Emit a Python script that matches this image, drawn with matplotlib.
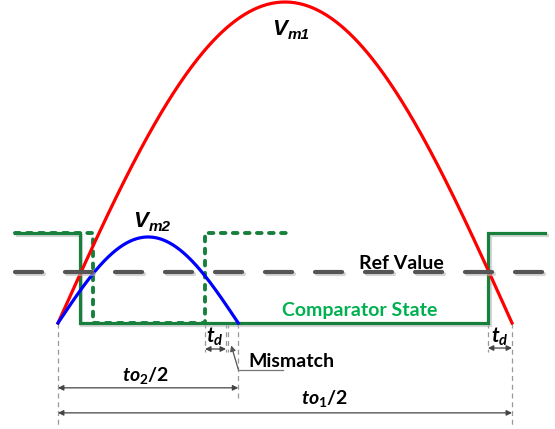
import matplotlib.pyplot as plt
import matplotlib.patheffects as pe
import numpy as np

plt.rcParams['mathtext.fontset'] = 'custom'
plt.rcParams['mathtext.it'] = 'Lato:style=italic:weight=bold'
plt.rcParams['mathtext.rm'] = 'Lato:weight=bold'

# signal parameters (time in units of to1/2, voltage in units of Vm1)
half_period1 = 1.0
amp1 = 1.0
half_period2 = 0.397
amp2 = 0.268
ref_value = 0.159
comp_high = 0.280

# comparator state (solid) and delayed state (dotted)
comp_t = [-0.095, 0.048, 0.048, 0.947, 0.947, 1.073]
comp_v = [comp_high, comp_high, 0, 0, comp_high, comp_high]
late_t = [-0.095, 0.077, 0.077, 0.324, 0.324, 0.504]
late_v = [comp_high, comp_high, 0, 0, comp_high, comp_high]
ref_span = [-0.095, 1.084]

# marker lines below the axis: (time, depth)
guides = [(0.0, -0.318), (1.0, -0.318), (0.397, -0.24), (0.324, -0.09),
          (0.370, -0.09), (0.375, -0.09), (0.947, -0.09)]
td_left = [0.324, 0.370]
td_right = [0.947, 1.0]

fig = plt.figure(figsize=(5.55, 4.29), dpi=100)
ax = fig.add_axes([0, 0, 1, 1])
ax.set_xlim(-58 / 454, 497 / 454)
ax.set_ylim(-106 / 321, 323 / 321)
ax.axis('off')

shadow = [pe.SimpleLineShadow(offset=(1.2, -1.2), shadow_color='#bbbbbb', alpha=0.6), pe.Normal()]

green = '#17803d'
ax.plot(comp_t, comp_v, color=green, lw=2.3, solid_joinstyle='miter', zorder=2, path_effects=shadow)
ax.plot(late_t, late_v, color=green, lw=2.8, ls=(0, (1.2, 1.9)), dash_capstyle='round', zorder=2)

t1 = np.linspace(0, half_period1, 300)
ax.plot(t1, amp1 * np.sin(np.pi * t1 / half_period1), color='red', lw=2.3, zorder=3)
t2 = np.linspace(0, half_period2, 200)
ax.plot(t2, amp2 * np.sin(np.pi * t2 / half_period2), color='blue', lw=2.3, zorder=3)

ax.plot(ref_span, [ref_value, ref_value], color='#555555', lw=3, ls=(0, (6.5, 5.5)),
        dash_capstyle='round', zorder=4, path_effects=shadow)

for t, depth in guides:
    ax.plot([t, t], [0, depth], color='#999999', lw=0.9, ls=(0, (4, 3)), zorder=1)

arrow = dict(arrowstyle='<|-|>', color='#444444', lw=0.9, mutation_scale=8, shrinkA=0, shrinkB=0)
ax.annotate('', xy=(td_left[0], -0.081), xytext=(td_left[1], -0.081), arrowprops=arrow)
ax.annotate('', xy=(td_right[0], -0.078), xytext=(td_right[1], -0.078), arrowprops=arrow)
ax.annotate('', xy=(0, -0.202), xytext=(half_period2, -0.202), arrowprops=arrow)
ax.annotate('', xy=(0, -0.280), xytext=(half_period1, -0.280), arrowprops=arrow)

# mismatch pointer
ax.annotate('', xy=(0.3815, -0.07), xytext=(0.397, -0.144),
            arrowprops=dict(arrowstyle='-|>', color='#555555', lw=0.9, mutation_scale=8,
                            shrinkA=0, shrinkB=0))
ax.plot([0.397, 0.496], [-0.145, -0.145], color='#777777', lw=0.9)

vfont = dict(family='Liberation Sans', weight='bold', style='italic', color='black')
ax.text(0.471, 0.897, 'V', fontsize=16, va='baseline', **vfont)
ax.text(0.505, 0.885, 'm1', fontsize=11, va='baseline', **vfont)
ax.text(0.165, 0.299, 'V', fontsize=16, va='baseline', **vfont)
ax.text(0.199, 0.287, 'm2', fontsize=11, va='baseline', **vfont)

ax.text(0.756, 0.168, 'Ref Value', family='Lato', weight='bold', fontsize=14,
        ha='center', va='baseline', color='black')
ax.text(0.665, 0.022, 'Comparator State', family='Lato', weight='bold', fontsize=14,
        ha='center', va='baseline', color='#00b050')
ax.text(0.419, -0.121, 'Mismatch', family='Lato', weight='bold', fontsize=14,
        ha='left', va='center', color='black')

ax.text(0.346, -0.044, r'$t_d$', fontsize=15, ha='center', va='center')
ax.text(0.972, -0.044, r'$t_d$', fontsize=15, ha='center', va='center')
ax.text(0.193, -0.163, r'$to_2/2$', fontsize=14, ha='center', va='center')
ax.text(0.588, -0.234, r'$to_1/2$', fontsize=14, ha='center', va='center')

fig.savefig('out.png', dpi=100)
